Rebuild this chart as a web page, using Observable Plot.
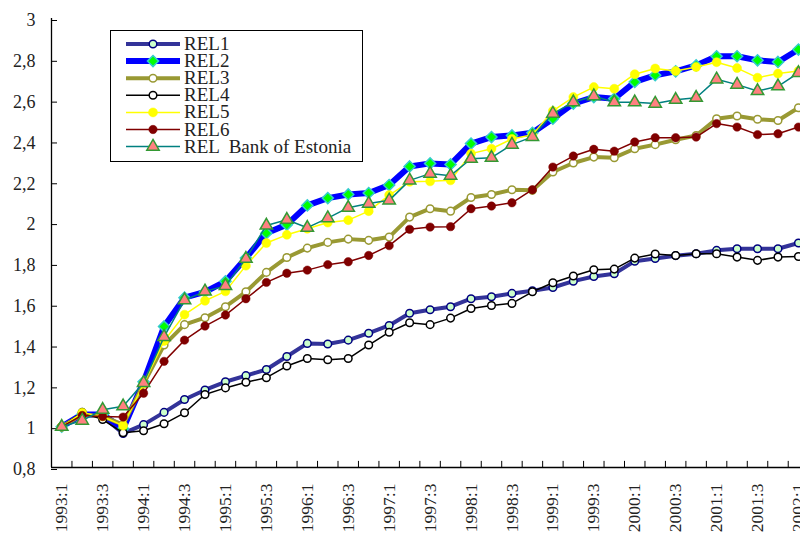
<!DOCTYPE html>
<html>
<head>
<meta charset="utf-8">
<script src="https://cdn.jsdelivr.net/npm/d3@7"></script>
<script src="https://cdn.jsdelivr.net/npm/@observablehq/plot@0.6"></script>
<style>
  html, body { margin: 0; padding: 0; background: white; }
  #chart { width: 800px; height: 536px; overflow: hidden; }
</style>
</head>
<body>
<div id="chart"></div>
<script>
// Quarters 1993:1 .. 2002:1
const quarters = [];
for (let y = 1993; y <= 2002; y++) for (let q = 1; q <= 4; q++) if (!(y === 2002 && q > 1)) quarters.push(`${y}:${q}`);
const labelIndex = quarters.map((d, i) => i).filter(i => i % 2 === 0);
const boundaries = quarters.map((d, i) => i - 0.5);
const yTicks = [0.8, 1, 1.2, 1.4, 1.6, 1.8, 2, 2.2, 2.4, 2.6, 2.8, 3];

const REL1 = [1.00, 1.06, 1.05, 0.967, 1.01, 1.07, 1.133, 1.18, 1.22, 1.25, 1.28, 1.344, 1.408, 1.405, 1.424, 1.458, 1.496, 1.556, 1.573, 1.588, 1.627, 1.637, 1.653, 1.666, 1.682, 1.713, 1.736, 1.749, 1.811, 1.824, 1.838, 1.847, 1.864, 1.872, 1.872, 1.872, 1.90];
const REL2 = [1.00, 1.06, 1.06, 0.99, 1.22, 1.491, 1.632, 1.66, 1.712, 1.826, 1.948, 1.99, 2.084, 2.12, 2.138, 2.145, 2.184, 2.275, 2.29, 2.285, 2.387, 2.419, 2.427, 2.44, 2.509, 2.583, 2.615, 2.607, 2.689, 2.722, 2.741, 2.77, 2.815, 2.815, 2.795, 2.787, 2.848];
const REL3 = [1.00, 1.06, 1.05, 1.01, 1.21, 1.40, 1.50, 1.534, 1.588, 1.661, 1.756, 1.829, 1.875, 1.903, 1.919, 1.913, 1.929, 2.027, 2.068, 2.056, 2.123, 2.138, 2.161, 2.158, 2.248, 2.292, 2.321, 2.318, 2.362, 2.382, 2.406, 2.427, 2.509, 2.522, 2.506, 2.50, 2.563];
const REL4 = [1.00, 1.07, 1.035, 0.97, 0.98, 1.014, 1.068, 1.158, 1.19, 1.218, 1.24, 1.297, 1.334, 1.328, 1.334, 1.40, 1.463, 1.509, 1.50, 1.532, 1.579, 1.594, 1.604, 1.661, 1.705, 1.738, 1.769, 1.772, 1.826, 1.846, 1.839, 1.847, 1.847, 1.831, 1.815, 1.831, 1.834];
const REL5 = [1.00, 1.068, 1.05, 1.005, 1.21, 1.42, 1.549, 1.617, 1.663, 1.789, 1.90, 1.94, 1.97, 2.00, 2.012, 2.056, 2.135, 2.20, 2.202, 2.207, 2.338, 2.362, 2.41, 2.43, 2.547, 2.615, 2.664, 2.656, 2.727, 2.755, 2.743, 2.762, 2.786, 2.757, 2.71, 2.73, 2.743];
const REL6 = [1.00, 1.055, 1.05, 1.047, 1.164, 1.32, 1.424, 1.493, 1.547, 1.627, 1.707, 1.752, 1.767, 1.794, 1.808, 1.839, 1.887, 1.967, 1.978, 1.98, 2.068, 2.081, 2.097, 2.161, 2.272, 2.326, 2.359, 2.35, 2.395, 2.416, 2.416, 2.419, 2.485, 2.468, 2.431, 2.435, 2.468];
const RELBoE = [1.00, 1.03, 1.083, 1.10, 1.215, 1.44, 1.62, 1.663, 1.69, 1.823, 1.986, 2.014, 1.975, 2.022, 2.073, 2.093, 2.109, 2.207, 2.24, 2.23, 2.313, 2.318, 2.382, 2.42, 2.534, 2.59, 2.62, 2.59, 2.59, 2.583, 2.602, 2.612, 2.702, 2.676, 2.645, 2.668, 2.733];

const seriesNames = ["REL1", "REL2", "REL3", "REL4", "REL5", "REL6", "REL  Bank of Estonia"];
const seriesValues = [REL1, REL2, REL3, REL4, REL5, REL6, RELBoE];

const styles = [
  {line: "#333399", lw: 4,   symbol: "circle",   r: 3.8, fill: "#ccffcc", stroke: "#000080", sw: 1.5},
  {line: "#0000ff", lw: 6,   symbol: "diamond2", r: 5,   fill: "#00ff00", stroke: "#33cccc", sw: 1.5},
  {line: "#999933", lw: 4,   symbol: "circle",   r: 3.8, fill: "#ffffff", stroke: "#999933", sw: 1.5},
  {line: "#000000", lw: 1.5, symbol: "circle",   r: 3.8, fill: "#ffffff", stroke: "#000000", sw: 1.5},
  {line: "#ffff00", lw: 1.5, symbol: "circle",   r: 4.5, fill: "#ffff00", stroke: "#ffff00", sw: 0.5},
  {line: "#800000", lw: 1.5, symbol: "circle",   r: 4.2, fill: "#800000", stroke: "#800000", sw: 0.5},
  {line: "#008080", lw: 1.5, symbol: "triangle", r: 4.6, fill: "#ff8080", stroke: "#339933", sw: 1.5}
];

const tables = seriesValues.map((vals, s) => vals.map((v, i) => ({i, v, s: seriesNames[s]})));

const fmt = d => String(+d.toFixed(1)).replace(".", ",");

const marks = [];
tables.forEach((t, s) => {
  const st = styles[s];
  marks.push(Plot.line(t, {x: "i", y: "v", stroke: st.line, strokeWidth: st.lw, strokeLinejoin: "round"}));
  marks.push(Plot.dot(t, {x: "i", y: "v", symbol: st.symbol, r: st.r, fill: st.fill, stroke: st.stroke, strokeWidth: st.sw}));
});

const chart = Plot.plot({
  width: 800,
  height: 536,
  marginLeft: 51,
  marginRight: 0,
  marginTop: 18,
  marginBottom: 69,
  style: {fontFamily: "'Liberation Serif', 'DejaVu Serif', serif", background: "white", color: "#222", overflow: "hidden"},
  x: {type: "linear", domain: [-0.5, 36.1], axis: null},
  y: {domain: [0.8, 3], axis: null},
  marks: [
    Plot.ruleY([0.8], {stroke: "black", strokeWidth: 1.3}),
    Plot.ruleX([boundaries[0]], {y1: 0.8, y2: 3, stroke: "black", strokeWidth: 1.3}),
    Plot.ruleX(boundaries, {y1: 0.8, y2: 0.83, stroke: "black", strokeWidth: 1}),
    Plot.axisY({ticks: yTicks, tickSize: -6, tickPadding: 22, tickFormat: fmt, fontSize: 18, dy: 2, stroke: "black", fill: "#222", label: null}),
    Plot.axisX({ticks: labelIndex, tickSize: 0, tickPadding: 16, tickRotate: -90, tickFormat: i => quarters[i], fontSize: 17.5, fill: "#222", label: null}),
    ...marks
  ]
});

document.getElementById("chart").appendChild(chart);

// Legend drawn inside the plot area
const svg = d3.select(chart);
const lg = svg.append("g").attr("class", "legend").attr("text-anchor", "start");
lg.append("rect").attr("x", 110.5).attr("y", 30.5).attr("width", 252).attr("height", 131)
  .attr("fill", "white").attr("stroke", "black").attr("stroke-width", 1);
const symMap = {circle: d3.symbolCircle, diamond2: d3.symbolDiamond2, triangle: d3.symbolTriangle};
seriesNames.forEach((name, i) => {
  const st = styles[i];
  const cy = 44 + i * 17.1;
  const row = lg.append("g");
  row.append("line").attr("x1", 126).attr("x2", 180).attr("y1", cy).attr("y2", cy)
    .attr("stroke", st.line).attr("stroke-width", st.lw);
  row.append("path").attr("transform", `translate(153,${cy})`)
    .attr("d", d3.symbol(symMap[st.symbol], st.r * st.r * Math.PI)())
    .attr("fill", st.fill).attr("stroke", st.stroke).attr("stroke-width", st.sw);
  row.append("text").attr("x", 184).attr("y", cy + 6)
    .attr("text-anchor", "start")
    .style("font-size", "19px").attr("fill", "#222")
    .style("font-family", "'Liberation Serif', 'DejaVu Serif', serif")
    .style("white-space", "pre").attr("xml:space", "preserve")
    .text(name);
});
</script>
</body>
</html>
